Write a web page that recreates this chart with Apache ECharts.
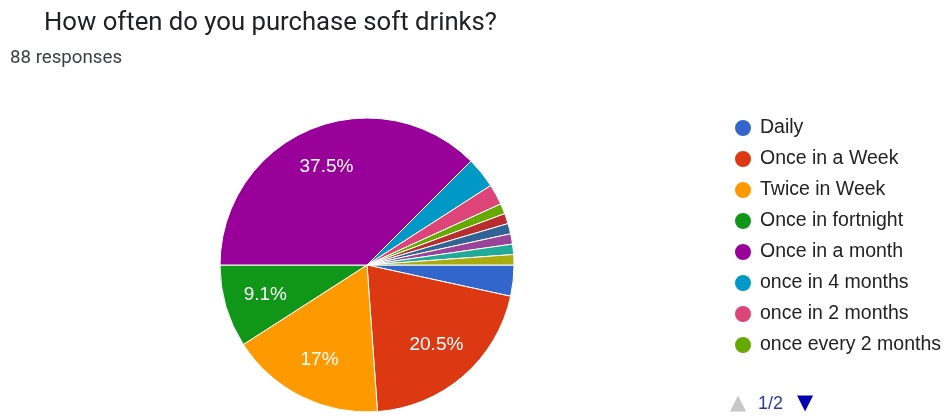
<!DOCTYPE html>
<html><head><meta charset="utf-8">
<script src="https://cdn.jsdelivr.net/npm/echarts@6/dist/echarts.min.js"></script>
<style>html,body{margin:0;padding:0;background:#fff}#c{width:947px;height:416px}</style>
</head><body><div id="c"></div>
<script>
const categories = ["Daily","Once in a Week","Twice in Week","Once in fortnight","Once in a month","once in 4 months","once in 2 months","once every 2 months","once in 3 months","once in 6 months","Rarely","Occasionally","Never"];
const counts = [3,18,15,8,33,3,2,1,1,1,1,1,1];
const colors = ["#3366cc","#dc3912","#ff9900","#109618","#990099","#0099c6","#dd4477","#66aa00","#b82e2e","#316395","#994499","#22aa99","#aaaa11"];
const legendPage1 = categories.slice(0,8);
const titleText = "How often do you purchase soft drinks?";
const subText = "88 responses";
const pagerText = "1/2";

const total = counts.reduce((a,b)=>a+b,0);
const data = categories.map((n,i)=>({name:n,value:counts[i],itemStyle:{color:colors[i]}}));
function fmt(p){
  const pct = p.value/total*100;
  if (pct < 5) return '';
  let s = (Math.round(pct*10)/10).toFixed(1);
  if (s.endsWith('.0')) s = s.slice(0,-2);
  return s + '%';
}
const chart = echarts.init(document.getElementById('c'));
chart.setOption({
  animation:false,
  title:[
    {text:titleText,left:39,top:6,textStyle:{fontFamily:'Roboto',fontWeight:'normal',fontSize:25.7,color:'#202124'}},
    {text:subText,left:5,top:44,textStyle:{fontFamily:'Roboto',fontWeight:'normal',fontSize:18.7,color:'#3c4043'}}
  ],
  legend:{
    data:legendPage1,orient:'vertical',left:728,top:113,
    itemWidth:18,itemHeight:18,itemGap:11,icon:'circle',
    textStyle:{fontFamily:'Liberation Sans',fontSize:19.5,color:'#222',padding:[0,0,0,3]}
  },
  graphic:[
    {type:'text',left:730,top:393,style:{text:'▲',fill:'#c8c8c8',font:'21px DejaVu Sans'}},
    {type:'text',left:758,top:395,style:{text:pagerText,fill:'#2a3a9a',font:'18px Liberation Sans'}},
    {type:'text',left:797,top:393,style:{text:'▼',fill:'#0000b0',font:'21px DejaVu Sans'}}
  ],
  series:[
    {type:'pie',center:[367,265],radius:[0,147],startAngle:0,clockwise:true,
     data:data,label:{show:false},labelLine:{show:false},
     itemStyle:{borderColor:'#fff',borderWidth:1}},
    {type:'pie',center:[367,265],radius:[59,147],startAngle:0,clockwise:true,silent:true,
     data:categories.map((n,i)=>({name:n,value:counts[i]})),
     itemStyle:{color:'rgba(0,0,0,0)'},legendHoverLink:false,
     label:{show:true,position:'inside',formatter:fmt,color:'#fff',fontSize:19,fontFamily:'Liberation Sans'},
     labelLine:{show:false}}
  ]
});
</script></body></html>
